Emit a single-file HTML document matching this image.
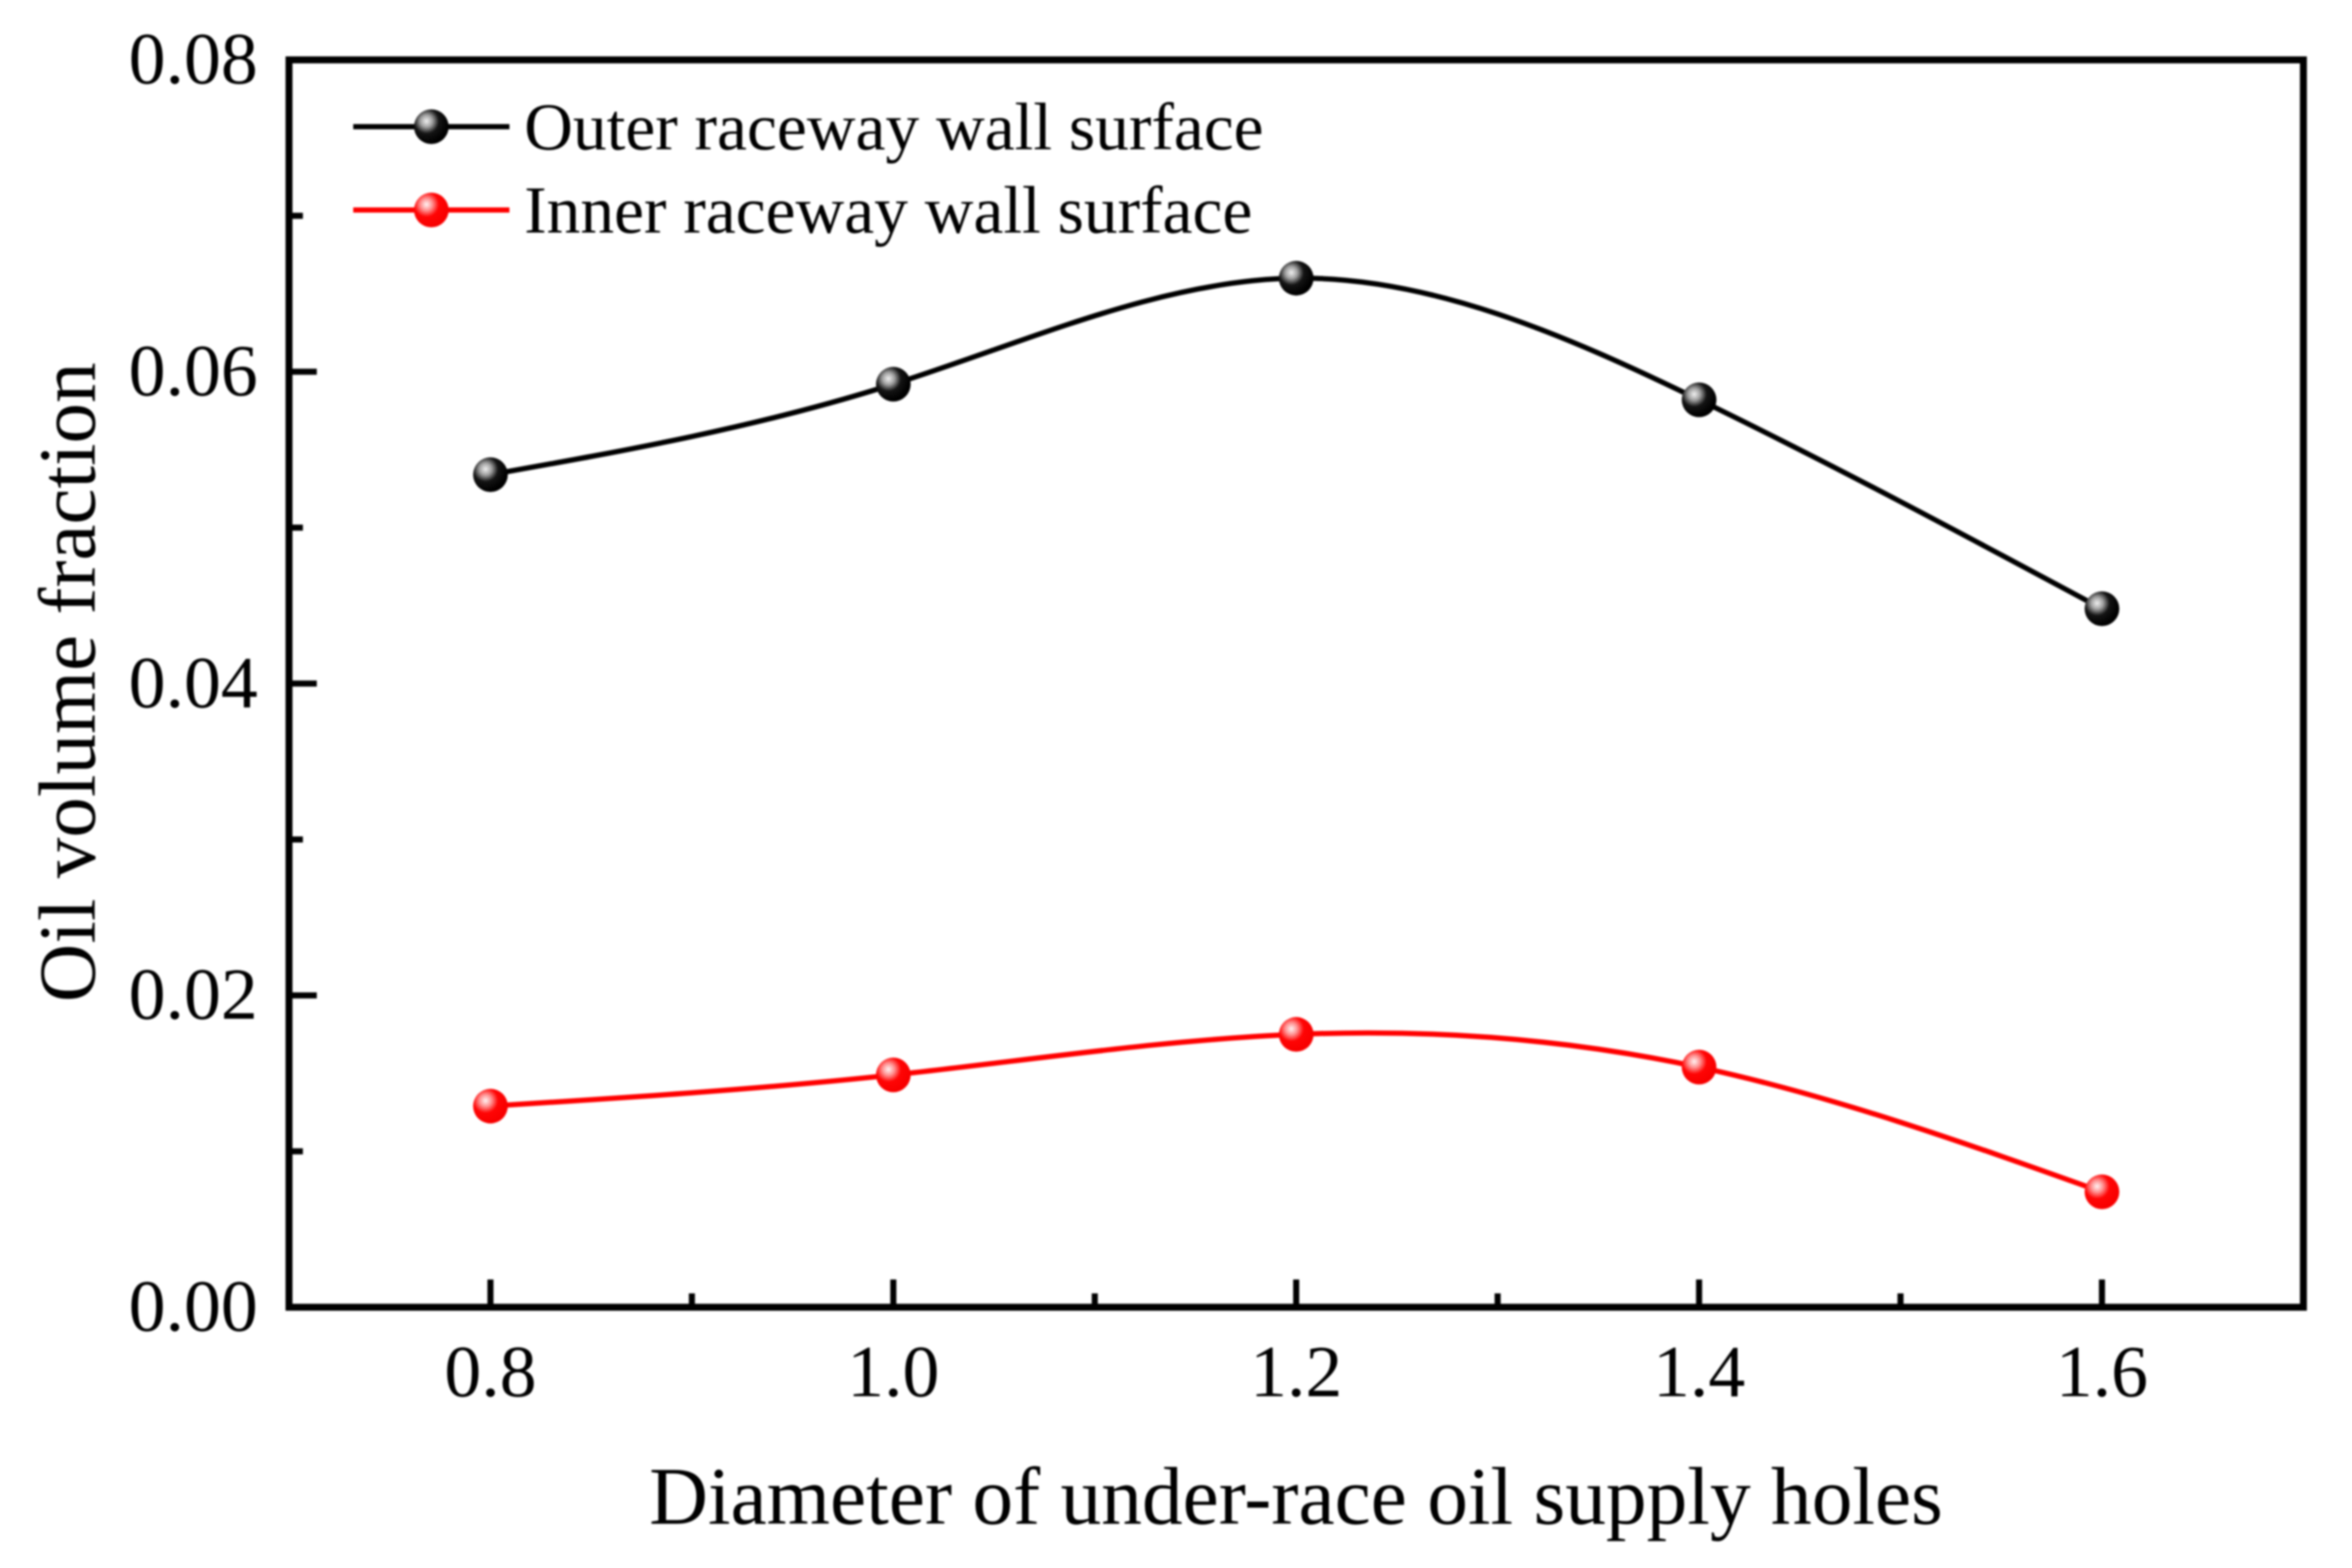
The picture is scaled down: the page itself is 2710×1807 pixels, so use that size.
<!DOCTYPE html>
<html lang="en">
<head>
<meta charset="utf-8">
<title>Oil volume fraction vs diameter of under-race oil supply holes</title>
<style>
html,body{margin:0;padding:0;background:#fff;width:2710px;height:1807px;overflow:hidden}
svg{display:block;filter:blur(1px)}
text{font-family:"Liberation Serif",serif;fill:#000}
</style>
</head>
<body>
<svg id="chart" xmlns="http://www.w3.org/2000/svg" width="2710" height="1807" viewBox="0 0 2710 1807">
  <defs>
    <radialGradient id="ball-black" cx="0.36" cy="0.34" r="0.62">
      <stop offset="0" stop-color="#f0f0f0"/>
      <stop offset="0.28" stop-color="#a0a0a0"/>
      <stop offset="0.58" stop-color="#141414"/>
      <stop offset="1" stop-color="#000"/>
    </radialGradient>
    <radialGradient id="ball-red" cx="0.36" cy="0.34" r="0.62">
      <stop offset="0" stop-color="#fff4f4"/>
      <stop offset="0.28" stop-color="#ff9090"/>
      <stop offset="0.58" stop-color="#ff0505"/>
      <stop offset="1" stop-color="#f80000"/>
    </radialGradient>
  </defs>
  <rect x="0" y="0" width="2710" height="1807" fill="#fff"/>
  <g id="ticks"></g>
  <g id="series"></g>
  <rect x="333" y="69" width="2321" height="1437.5" fill="none" stroke="#000" stroke-width="8"/>
  <g id="tick-labels"></g>

  <text x="748" y="1756" font-size="93.8">Diameter of under-race oil supply holes</text>
  <text transform="translate(109 1155) rotate(-90)" font-size="93.5">Oil volume fraction</text>

  <g>
    <g>
      <line x1="407" y1="146" x2="587" y2="146" stroke="#000" stroke-width="6"/>
      <circle cx="497" cy="146" r="20" fill="url(#ball-black)"/>
      <text x="604" y="172" font-size="77.7">Outer raceway wall surface</text>
    </g>
    <g>
      <line x1="407" y1="242" x2="587" y2="242" stroke="#ff0000" stroke-width="6"/>
      <circle cx="497" cy="242" r="20" fill="url(#ball-red)"/>
      <text x="604" y="268" font-size="77.7">Inner raceway wall surface</text>
    </g>
  </g>
</svg>
<script>
const categories = [0.8, 1.0, 1.2, 1.4, 1.6];
const outerValues = [0.0534, 0.0592, 0.0660, 0.0582, 0.0448];
const innerValues = [0.0129, 0.0149, 0.0175, 0.0154, 0.0074];
const xMajorTicks = [0.8, 1.0, 1.2, 1.4, 1.6];
const xMinorTicks = [0.9, 1.1, 1.3, 1.5];
const xTickLabels = ['0.8', '1.0', '1.2', '1.4', '1.6'];
const yMajorTicks = [0, 0.02, 0.04, 0.06, 0.08];
const yMinorTicks = [0.01, 0.03, 0.05, 0.07];
const yTickLabels = ['0.00', '0.02', '0.04', '0.06', '0.08'];

const NS = 'http://www.w3.org/2000/svg';
const plot = { left: 333, right: 2654, top: 69, bottom: 1506.5 };
const xDomain = [0.7, 1.7];
const yDomain = [0, 0.08];

function xScale(v) {
  return plot.left + (v - xDomain[0]) / (xDomain[1] - xDomain[0]) * (plot.right - plot.left);
}
function yScale(v) {
  return plot.bottom - (v - yDomain[0]) / (yDomain[1] - yDomain[0]) * (plot.bottom - plot.top);
}

function naturalSplineDerivatives(xs, ys) {
  const n = xs.length;
  const h = [];
  for (let i = 0; i < n - 1; i++) h.push(xs[i + 1] - xs[i]);
  const m = new Array(n).fill(0);
  const c = new Array(n).fill(0);
  const d = new Array(n).fill(0);
  for (let i = 1; i < n - 1; i++) {
    const a = h[i - 1];
    const b = 2 * (h[i - 1] + h[i]);
    const r = 6 * ((ys[i + 1] - ys[i]) / h[i] - (ys[i] - ys[i - 1]) / h[i - 1]);
    const den = b - a * c[i - 1];
    c[i] = h[i] / den;
    d[i] = (r - a * d[i - 1]) / den;
  }
  for (let i = n - 2; i > 0; i--) m[i] = d[i] - c[i] * m[i + 1];
  const slopes = [];
  for (let i = 0; i < n - 1; i++) {
    slopes.push((ys[i + 1] - ys[i]) / h[i] - h[i] * (2 * m[i] + m[i + 1]) / 6);
  }
  slopes.push((ys[n - 1] - ys[n - 2]) / h[n - 2] + h[n - 2] * (m[n - 2] + 2 * m[n - 1]) / 6);
  return { h, slopes };
}

function splinePath(xVals, yVals) {
  const xs = xVals.map(xScale);
  const ys = yVals.map(yScale);
  const s = naturalSplineDerivatives(xs, ys);
  let path = 'M' + xs[0].toFixed(2) + ' ' + ys[0].toFixed(2);
  for (let i = 0; i < xs.length - 1; i++) {
    const t = s.h[i] / 3;
    path += 'C' + (xs[i] + t).toFixed(2) + ' ' + (ys[i] + s.slopes[i] * t).toFixed(2) + ' ' +
      (xs[i + 1] - t).toFixed(2) + ' ' + (ys[i + 1] - s.slopes[i + 1] * t).toFixed(2) + ' ' +
      xs[i + 1].toFixed(2) + ' ' + ys[i + 1].toFixed(2);
  }
  return path;
}

const ticksGroup = document.getElementById('ticks');
const labelsGroup = document.getElementById('tick-labels');
const seriesGroup = document.getElementById('series');

function addTick(x1, y1, x2, y2, name) {
  const el = document.createElementNS(NS, 'line');
  
  
  el.setAttribute('x1', x1);
  el.setAttribute('y1', y1);
  el.setAttribute('x2', x2);
  el.setAttribute('y2', y2);
  el.setAttribute('stroke', '#000');
  el.setAttribute('stroke-width', '7');
  ticksGroup.appendChild(el);
}

xMajorTicks.forEach(function (v) { addTick(xScale(v), plot.bottom, xScale(v), plot.bottom - 32, 'x-major-tick'); });
xMinorTicks.forEach(function (v) { addTick(xScale(v), plot.bottom, xScale(v), plot.bottom - 16, 'x-minor-tick'); });
yMajorTicks.forEach(function (v) { addTick(plot.left, yScale(v), plot.left + 32, yScale(v), 'y-major-tick'); });
yMinorTicks.forEach(function (v) { addTick(plot.left, yScale(v), plot.left + 16, yScale(v), 'y-minor-tick'); });

xMajorTicks.forEach(function (v, i) {
  const el = document.createElementNS(NS, 'text');
  
  
  el.setAttribute('x', xScale(v));
  el.setAttribute('y', 1609);
  el.setAttribute('font-size', '85');
  el.setAttribute('text-anchor', 'middle');
  el.textContent = xTickLabels[i];
  labelsGroup.appendChild(el);
});
yMajorTicks.forEach(function (v, i) {
  const el = document.createElementNS(NS, 'text');
  
  
  el.setAttribute('x', 297);
  el.setAttribute('y', yScale(v) + 27);
  el.setAttribute('font-size', '85');
  el.setAttribute('text-anchor', 'end');
  el.textContent = yTickLabels[i];
  labelsGroup.appendChild(el);
});

function drawSeries(values, color, gradient, name) {
  const line = document.createElementNS(NS, 'path');
  
  
  line.setAttribute('d', splinePath(categories, values));
  line.setAttribute('fill', 'none');
  line.setAttribute('stroke', color);
  line.setAttribute('stroke-width', '6');
  seriesGroup.appendChild(line);
  values.forEach(function (v, i) {
    const pt = document.createElementNS(NS, 'circle');
    
    
    pt.setAttribute('cx', xScale(categories[i]));
    pt.setAttribute('cy', yScale(v));
    pt.setAttribute('r', '20');
    pt.setAttribute('fill', 'url(#' + gradient + ')');
    seriesGroup.appendChild(pt);
  });
}

drawSeries(outerValues, '#000', 'ball-black', 'outer-raceway');
drawSeries(innerValues, '#ff0000', 'ball-red', 'inner-raceway');
</script>
</body>
</html>
